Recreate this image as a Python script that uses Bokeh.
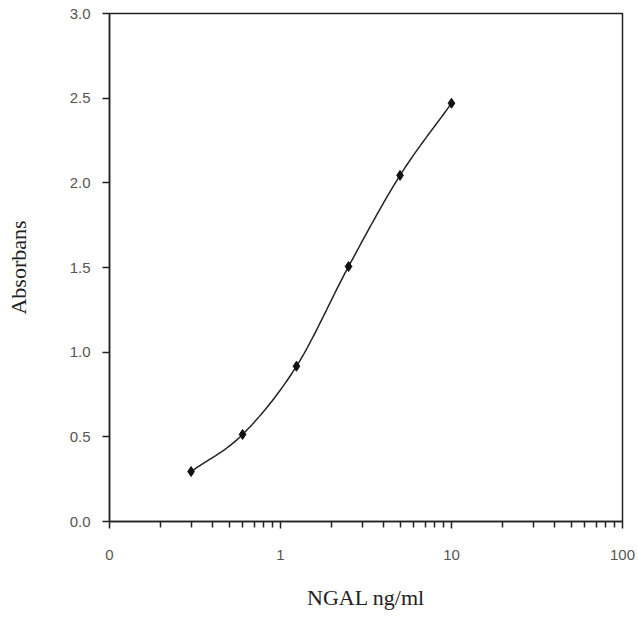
import numpy as np
from bokeh.plotting import figure
from bokeh.models import FixedTicker, Range1d, PrintfTickFormatter
from bokeh.embed import file_html
from bokeh.resources import INLINE

# Data
ngal = [0.3, 0.6, 1.24, 2.5, 5.0, 10.0]
absorbans = [0.295, 0.514, 0.917, 1.506, 2.044, 2.47]

x_major = [0.1, 1, 10, 100]
x_major_labels = ["0", "1", "10", "100"]
y_ticks = [0.0, 0.5, 1.0, 1.5, 2.0, 2.5, 3.0]

# Smooth curve (Catmull-Rom through the points, in log-x space)
lx = np.log10(np.array(ngal))
yy = np.array(absorbans)
P = np.column_stack([lx, yy])
Pext = np.vstack([2 * P[0] - P[1], P, 2 * P[-1] - P[-2]])
cx, cy = [], []
t = np.linspace(0, 1, 30)
for i in range(1, len(Pext) - 2):
    p0, p1, p2, p3 = Pext[i - 1], Pext[i], Pext[i + 1], Pext[i + 2]
    for tt in t:
        pt = 0.5 * ((2 * p1) + (-p0 + p2) * tt + (2 * p0 - 5 * p1 + 4 * p2 - p3) * tt ** 2
                    + (-p0 + 3 * p1 - 3 * p2 + p3) * tt ** 3)
        cx.append(10 ** pt[0])
        cy.append(pt[1])

p = figure(width=638, height=619, x_axis_type="log", output_backend="svg",
           toolbar_location=None, x_range=Range1d(0.1, 100), y_range=Range1d(0, 3))
p.min_border_left = 109
p.min_border_right = 16
p.min_border_top = 13
p.min_border_bottom = 98

p.line(cx, cy, line_color="#222222", line_width=1.5)
p.scatter(ngal, absorbans, marker="diamond", size=10, color="#111111")

p.grid.visible = False
p.outline_line_color = "#222222"
p.outline_line_width = 1.5

minor = []
for d in [0.1, 1, 10]:
    minor += [d * k for k in range(2, 10)]
p.xaxis.ticker = FixedTicker(ticks=x_major, minor_ticks=minor)
p.xaxis.major_label_overrides = {v: s for v, s in zip(x_major, x_major_labels)}
p.yaxis.ticker = FixedTicker(ticks=y_ticks)

for ax in (p.xaxis[0], p.yaxis[0]):
    ax.axis_line_color = "#222222"
    ax.axis_line_width = 1.5
    ax.major_tick_line_color = "#222222"
    ax.minor_tick_line_color = "#222222"
    ax.major_tick_line_width = 1.5
    ax.minor_tick_line_width = 1.5
    ax.major_tick_in = 0
    ax.minor_tick_in = 0
    ax.major_tick_out = 7
    ax.minor_tick_out = 6
    ax.major_label_text_font = "Liberation Sans"
    ax.major_label_text_font_size = "15px"
    ax.major_label_text_color = "#555555"
    ax.axis_label_text_font = "Liberation Serif"
    ax.axis_label_text_font_size = "22px"
    ax.axis_label_text_font_style = "normal"
    ax.axis_label_text_color = "#222222"

p.yaxis.minor_tick_line_color = None
p.yaxis.formatter = PrintfTickFormatter(format="%.1f")
p.xaxis.axis_label = "NGAL ng/ml"
p.yaxis.axis_label = "Absorbans"
p.yaxis.major_label_standoff = 12
p.xaxis.major_label_standoff = 21
p.xaxis.axis_label_standoff = 22
p.yaxis.axis_label_standoff = 36

open("out.html", "w").write(file_html(p, INLINE))
